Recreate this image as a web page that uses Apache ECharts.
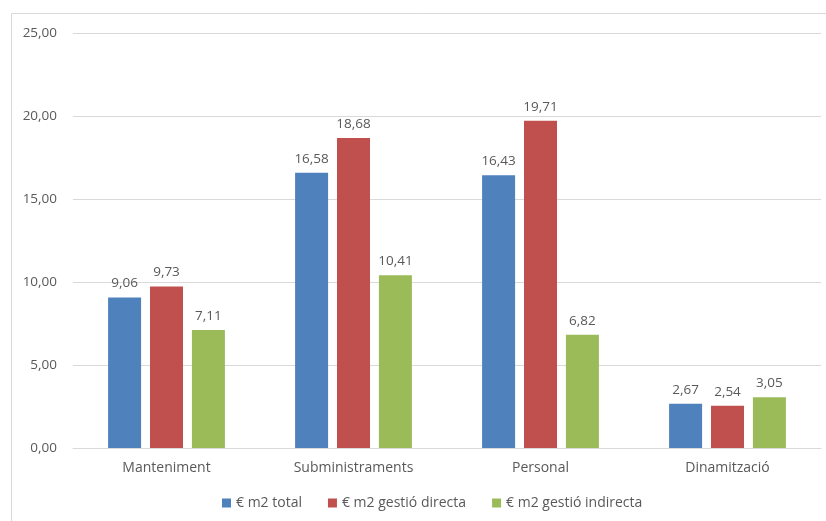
<!DOCTYPE html>
<html>
<head>
<meta charset="utf-8">
<script src="https://cdn.jsdelivr.net/npm/echarts@6/dist/echarts.min.js"></script>
<style>
  html, body { margin: 0; padding: 0; background: #fff; }
  #chart { width: 826px; height: 521px; }
</style>
</head>
<body>
<div id="chart"></div>
<script>
var categories = ['Manteniment', 'Subministraments', 'Personal', 'Dinamització'];
var seriesNames = ['€ m2 total', '€ m2 gestió directa', '€ m2 gestió indirecta'];
var total = [9.06, 16.58, 16.43, 2.67];
var directa = [9.73, 18.68, 19.71, 2.54];
var indirecta = [7.11, 10.41, 6.82, 3.05];
var colors = ['#4F81BD', '#C0504D', '#9BBB59'];

function fmt(v) {
	return v.toFixed(2).replace('.', ',');
}

var chart = echarts.init(document.getElementById('chart'));
var textColor = '#595959';
var font = 'Open Sans';

function bar(name, data, color) {
	return {
		name: name,
		type: 'bar',
		data: data,
		barWidth: 33,
		barGap: '27%',
		itemStyle: { color: color },
		label: {
			show: true,
			position: 'top',
			distance: 7,
			color: textColor,
			fontFamily: font,
			fontSize: 13.5,
			formatter: function (p) { return fmt(p.value); }
		}
	};
}

chart.setOption({
	animation: false,
	graphic: [{
		type: 'rect',
		shape: { x: 11.5, y: 13.5, width: 830, height: 520 },
		style: { fill: 'none', stroke: '#d9d9d9', lineWidth: 1 }
	}],
	legend: {
		bottom: 6,
		left: 217,
		itemWidth: 9,
		itemHeight: 9,
		itemGap: 26,
		icon: 'rect',
		textStyle: { color: textColor, fontFamily: font, fontSize: 14 },
		data: seriesNames
	},
	grid: { left: 73, right: 5, top: 33, bottom: 73 },
	xAxis: {
		type: 'category',
		data: categories,
		axisTick: { show: false },
		axisLine: { lineStyle: { color: '#d9d9d9', width: 1 } },
		axisLabel: { color: textColor, fontFamily: font, fontSize: 14, margin: 13 }
	},
	yAxis: {
		type: 'value',
		min: 0,
		max: 25,
		interval: 5,
		axisLine: { show: false },
		axisTick: { show: false },
		splitLine: { lineStyle: { color: '#d9d9d9', width: 1 } },
		axisLabel: {
			color: textColor, fontFamily: font, fontSize: 13.5, margin: 16,
			formatter: function (v) { return fmt(v); }
		}
	},
	series: [
		bar(seriesNames[0], total, colors[0]),
		bar(seriesNames[1], directa, colors[1]),
		bar(seriesNames[2], indirecta, colors[2])
	]
});
</script>
</body>
</html>
